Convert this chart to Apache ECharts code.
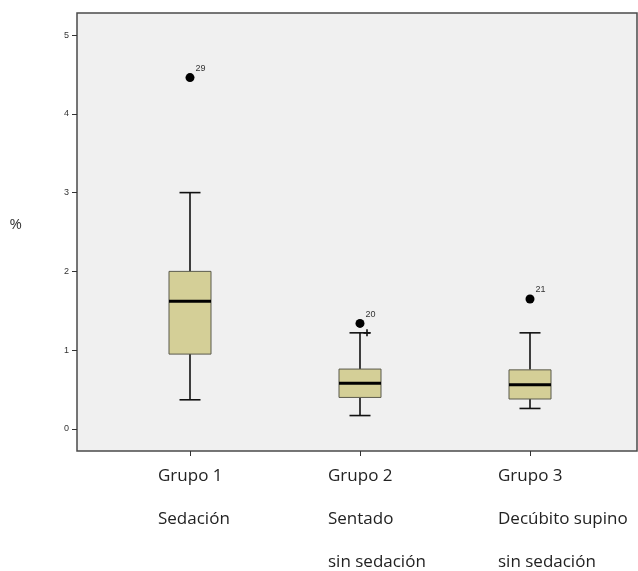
<!DOCTYPE html>
<html lang="es">
<head>
  <meta charset="UTF-8">
  <title>Boxplot grupos</title>
  <script src="https://cdn.jsdelivr.net/npm/echarts@6/dist/echarts.min.js"></script>
</head>
<body style="margin:0; background-color:#ffffff;">
<div id="main" style="width:638px; height:571px;"></div>

<script>
  // categorias (tres lineas por grupo)
  var categories = ['Grupo 1', 'Grupo 2', 'Grupo 3'];
  var subLine1 = ['Sedación', 'Sentado', 'Decúbito supino'];
  var subLine2 = ['', 'sin sedación', 'sin sedación'];

  // [min, Q1, mediana, Q3, max]
  var boxValues = [
    [0.37, 0.95, 1.62, 2.00, 3.00],
    [0.17, 0.40, 0.58, 0.76, 1.22],
    [0.26, 0.38, 0.56, 0.75, 1.22]
  ];

  // valores atipicos: [grupo, valor, caso]
  var outliers = [
    [0, 4.46, '29'],
    [1, 1.34, '20'],
    [2, 1.65, '21']
  ];
  // marca pequena "+" junto al bigote del grupo 2
  var extraMarks = [[1, 1.22]];

  var yTicks = [0, 1, 2, 3, 4, 5];

  var chartDom = document.getElementById('main');
  var myChart = echarts.init(chartDom, null, { renderer: 'canvas' });

  var boxData = boxValues.map(function (v, i) {
    return [i].concat(v);
  });

  function renderBox(params, api) {
    var idx = api.value(0);
    var pMin = api.coord([idx, api.value(1)]);
    var pQ1 = api.coord([idx, api.value(2)]);
    var pMed = api.coord([idx, api.value(3)]);
    var pQ3 = api.coord([idx, api.value(4)]);
    var pMax = api.coord([idx, api.value(5)]);
    var x = pMed[0];
    var hw = 21;
    var cw = 10.5;
    var lineStyle = { stroke: '#111', lineWidth: 1.6 };
    return {
      type: 'group',
      children: [
        { type: 'line', shape: { x1: x, y1: pMax[1], x2: x, y2: pQ3[1] }, style: lineStyle },
        { type: 'line', shape: { x1: x, y1: pQ1[1], x2: x, y2: pMin[1] }, style: lineStyle },
        { type: 'line', shape: { x1: x - cw, y1: pMax[1], x2: x + cw, y2: pMax[1] }, style: lineStyle },
        { type: 'line', shape: { x1: x - cw, y1: pMin[1], x2: x + cw, y2: pMin[1] }, style: lineStyle },
        {
          type: 'rect',
          shape: { x: x - hw, y: pQ3[1], width: hw * 2, height: pQ1[1] - pQ3[1] },
          style: { fill: '#d4cf97', stroke: '#5b5a4c', lineWidth: 1 }
        },
        {
          type: 'line',
          shape: { x1: x - hw, y1: pMed[1], x2: x + hw, y2: pMed[1] },
          style: { stroke: '#000', lineWidth: 3 }
        }
      ]
    };
  }

  var option = {
    backgroundColor: '#ffffff',
    animation: false,
    grid: [
      // marco gris del grafico
      {
        left: 77, top: 13, width: 560, height: 438,
        show: true,
        backgroundColor: '#f0f0f0',
        borderColor: '#4a4a4a',
        borderWidth: 1.5
      },
      // area de datos
      { left: 105, top: 13, width: 510, height: 438 }
    ],
    xAxis: [
      { gridIndex: 0, type: 'value', show: false, min: 0, max: 1 },
      {
        gridIndex: 1,
        type: 'category',
        data: categories,
        axisLine: { show: false, onZero: false },
        axisTick: { show: true, alignWithLabel: true, length: 5, lineStyle: { color: '#333' } },
        axisLabel: {
          interval: 0,
          margin: 4,
          formatter: function (value, i) {
            return '{t|' + value + '}\n{t|' + subLine1[i] + '}\n{t|' + subLine2[i] + '}';
          },
          rich: {
            t: {
              width: 64,
              align: 'left',
              lineHeight: 43,
              fontSize: 17,
              fontFamily: 'Open Sans',
              color: '#222'
            }
          }
        },
        splitLine: { show: false }
      }
    ],
    yAxis: [
      { gridIndex: 0, type: 'value', show: false, min: 0, max: 1 },
      {
        gridIndex: 1,
        type: 'value',
        min: -0.28,
        max: 5.28,
        offset: 28,
        name: '%',
        nameLocation: 'middle',
        nameRotate: 0,
        nameGap: 55,
        nameTextStyle: {
          fontSize: 15,
          fontFamily: 'Open Sans',
          color: '#333',
          verticalAlign: 'bottom'
        },
        axisLine: { show: false },
        axisTick: {
          show: true,
          length: 5,
          customValues: yTicks,
          lineStyle: { color: '#333' }
        },
        axisLabel: {
          customValues: yTicks,
          margin: 8,
          fontSize: 9,
          fontFamily: 'Liberation Sans',
          color: '#333'
        },
        splitLine: { show: false }
      }
    ],
    series: [
      {
        type: 'custom',
        xAxisIndex: 1,
        yAxisIndex: 1,
        renderItem: renderBox,
        encode: { x: 0, y: [1, 2, 3, 4, 5] },
        data: boxData,
        z: 2
      },
      {
        type: 'scatter',
        xAxisIndex: 1,
        yAxisIndex: 1,
        symbol: 'circle',
        symbolSize: 9,
        itemStyle: { color: '#000', opacity: 1 },
        label: {
          show: true,
          position: 'right',
          distance: 1,
          offset: [0, -9],
          formatter: function (p) { return p.value[2]; },
          fontSize: 9,
          fontFamily: 'Liberation Sans',
          color: '#333'
        },
        data: outliers,
        z: 3
      },
      {
        type: 'scatter',
        xAxisIndex: 1,
        yAxisIndex: 1,
        symbol: 'path://M0,4 L8,4 M4,0 L4,8',
        symbolSize: 7,
        symbolOffset: [7, 0],
        itemStyle: { color: 'none', borderColor: '#111', borderWidth: 1.6, opacity: 1 },
        data: extraMarks,
        z: 3
      }
    ]
  };

  myChart.setOption(option);
</script>
</body>
</html>
